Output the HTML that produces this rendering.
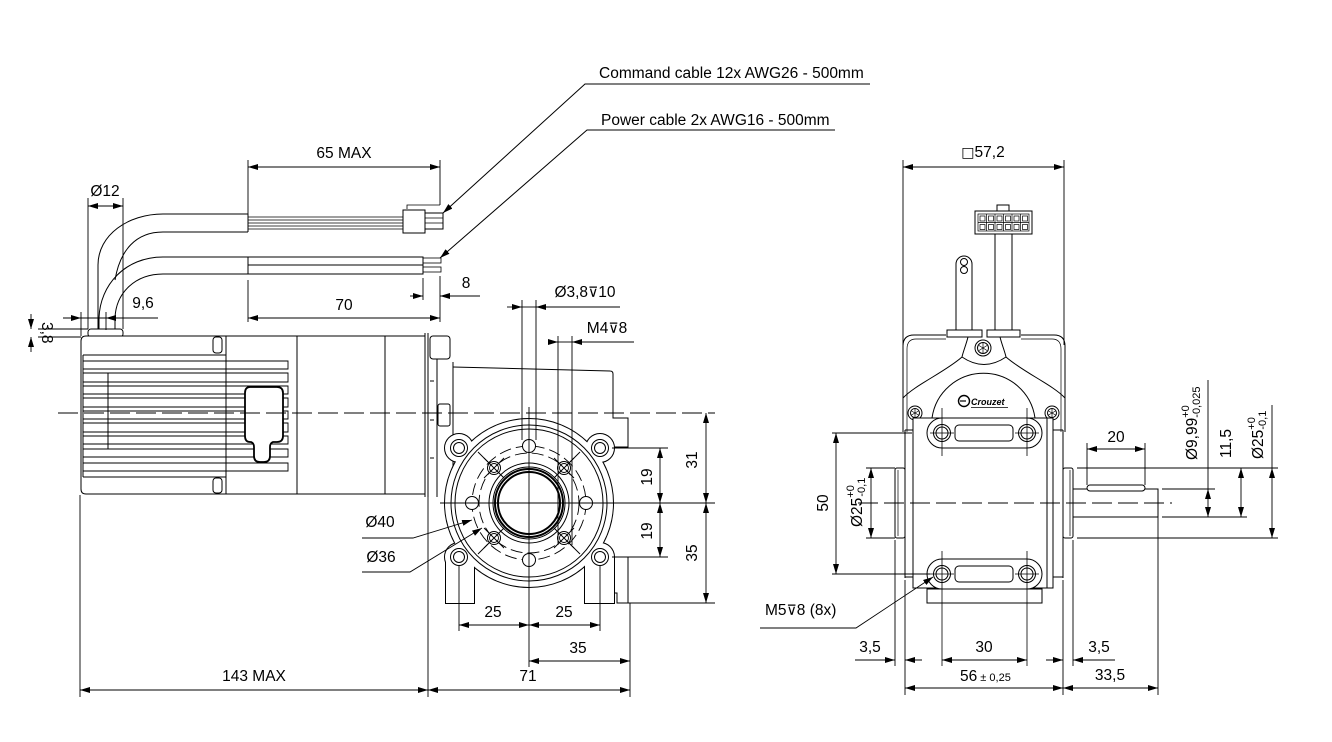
<!DOCTYPE html>
<html><head><meta charset="utf-8"><style>
html,body{margin:0;padding:0;background:#fff;}
svg{display:block;}
text{font-family:"Liberation Sans",Arial,sans-serif;font-size:15.5px;fill:#000;stroke:none;}
.sym{font-family:"DejaVu Sans",sans-serif;font-size:14px;}
.sm{font-size:11px;}
</style></head><body>
<svg width="1332" height="742" viewBox="0 0 1332 742" xmlns="http://www.w3.org/2000/svg">
<defs>
<marker id="a" viewBox="0 0 10 6" refX="10" refY="3" markerWidth="10" markerHeight="6" markerUnits="userSpaceOnUse" orient="auto-start-reverse"><path d="M0,0L10,3L0,6z" fill="#000"/></marker>
</defs>

<g fill="none" stroke="#000" stroke-width="1">

<!-- ============ LEADERS TOP ============ -->
<path d="M870,84H585L443,213" marker-end="url(#a)"/>
<path d="M835,130H587L440,258" marker-end="url(#a)"/>

<!-- ============ LEFT VIEW : CABLES ============ -->
<path d="M98,330V265C98,235 128,214 163,214H248"/>
<path d="M115,280C120,250 136,232 163,232H248"/>
<path d="M99,330V318C100,285 125,257 163,257H248"/>
<path d="M115,330V318C116,292 136,274 163,274H248"/>
<path d="M248,214V232M248,257V274"/>
<g stroke-width="0.7">
<path d="M248,217H403M248,220H403M248,223H403M248,226H403M248,229H403"/>
</g>
<rect x="403" y="210" width="22" height="23" fill="#fff"/>
<rect x="425" y="213" width="18" height="16" fill="#fff"/>
<path d="M425,218H443M425,223H443" stroke-width="0.8"/>
<path d="M407,209V205H440" stroke-width="0.8"/>
<rect x="248" y="257" width="175" height="8"/>
<rect x="248" y="265" width="175" height="9"/>
<rect x="423" y="258" width="18" height="5" stroke-width="0.8"/>
<rect x="423" y="267" width="18" height="5" stroke-width="0.8"/>

<!-- cable gland -->
<rect x="88" y="329" width="35" height="8" rx="3" fill="#fff"/>

<!-- ============ LEFT VIEW : MOTOR ============ -->
<path d="M81,341Q81,336 86,336H226V494H86Q81,494 81,489Z" fill="#fff"/>
<path d="M83,355V477"/>
<path d="M108,373V449"/>
<g stroke-width="0.9">
<path d="M83,355H226M83,361H226M83,369H226M83,373H226M83,382H226M83,386H226M83,394H226M83,398H226M83,407H226M83,411H226M83,419H226M83,423H226M83,432H226M83,436H226M83,444H226M83,449H226M83,457H226M83,463H226M83,471H226M83,477H226"/>
<path d="M226,361H288V369H226M226,373H288V382H226M226,386H288V394H226M226,398H288V407H226M226,411H288V419H226M226,423H288V432H226M226,436H288V444H226M226,449H288V457H226M226,463H288V471H226"/>
</g>
<rect x="213" y="337" width="9" height="16" rx="3"/>
<rect x="213" y="478" width="9" height="15" rx="3"/>
<path d="M226,336H425M226,494H425M297,336V494M385,336V494"/>
<path d="M425,333V497M428,333V497"/>
<path d="M250,387H277Q283,387 283,393V436Q283,442 277,442H273Q270,443 270,447V456Q270,462 264,462H260Q254,462 254,456V447Q254,443 251,442H250Q245,442 245,436V393Q245,387 250,387Z" fill="#fff" stroke-width="1.8"/>

<!-- flange -->
<rect x="430" y="336" width="20" height="23" rx="3"/>
<rect x="438" y="404" width="12" height="22" rx="2"/>
<path d="M437,359V497M453,362V500M430,381H434M430,420H434M430,458H434"/>
<!-- housing side -->
<path d="M453,367L610,371Q613,371 613,374V418H628V447H612"/>
<path d="M600,557H628V603H617V593H606"/>

<!-- centerline left view -->
<path d="M58,413H712" stroke-dasharray="20,6" stroke-width="0.9"/>

<!-- ============ FRONT FACE (union trick) ============ -->
<g stroke-width="2">
<circle cx="529" cy="503" r="84"/>
<circle cx="459" cy="448" r="14"/><circle cx="600" cy="448" r="14"/>
<circle cx="459" cy="557" r="14"/><circle cx="600" cy="557" r="14"/>
<rect x="446" y="557" width="28" height="46"/>
<rect x="585" y="557" width="29" height="46"/>
</g>
<g fill="#fff" stroke="none">
<circle cx="529" cy="503" r="84"/>
<circle cx="459" cy="448" r="14"/><circle cx="600" cy="448" r="14"/>
<circle cx="459" cy="557" r="14"/><circle cx="600" cy="557" r="14"/>
<rect x="446" y="557" width="28" height="46"/>
<rect x="585" y="557" width="29" height="46"/>
</g>
<circle cx="529" cy="503" r="78"/>
<circle cx="529" cy="503" r="74"/>
<circle cx="529" cy="503" r="57" stroke-dasharray="12,5" stroke-width="0.9"/>
<circle cx="529" cy="503" r="50" stroke-dasharray="12,5" stroke-width="0.9"/>
<circle cx="529" cy="503" r="40"/>
<circle cx="529" cy="503" r="36" stroke-width="1"/>
<circle cx="529" cy="503" r="34" stroke-width="2"/>
<circle cx="529" cy="503" r="31" stroke-width="2"/>
<!-- holes -->
<g fill="#fff">
<circle cx="459" cy="448" r="8.5"/><circle cx="459" cy="448" r="5.5"/>
<circle cx="600" cy="448" r="8.5"/><circle cx="600" cy="448" r="5.5"/>
<circle cx="459" cy="557" r="8.5"/><circle cx="459" cy="557" r="5.5"/>
<circle cx="600" cy="557" r="8.5"/><circle cx="600" cy="557" r="5.5"/>
<circle cx="529" cy="446" r="6.5"/><circle cx="472" cy="503" r="6.5"/>
<circle cx="586" cy="503" r="6.5"/><circle cx="529" cy="560" r="6.5"/>
<circle cx="494" cy="468" r="6.5"/><circle cx="564" cy="468" r="6.5"/>
<circle cx="494" cy="538" r="6.5"/><circle cx="564" cy="538" r="6.5"/>
</g>
<g stroke-width="0.9">
<circle cx="494" cy="468" r="4.5"/><circle cx="564" cy="468" r="4.5"/>
<circle cx="494" cy="538" r="4.5"/><circle cx="564" cy="538" r="4.5"/>
<path d="M484,458L504,478M504,458L484,478M554,458L574,478M574,458L554,478M484,528L504,548M504,528L484,548M554,528L574,548M574,528L554,548"/>
<path d="M478,452L488,462M580,452L570,462M478,554L488,544M580,554L570,544"/>
<path d="M529,407V667M440,503H595"/>
<path d="M463,503H481M577,503H595"/>
</g>

<!-- ============ FRONT VIEW DIMENSIONS ============ -->
<g stroke-width="0.9">
<path d="M522,300V440M536,300V440"/>
<path d="M507,307H522" marker-end="url(#a)"/>
<path d="M620,307H536" marker-end="url(#a)"/>
<path d="M522,307H536"/>
<path d="M558,336V545M572,336V545"/>
<path d="M548,342H558" marker-end="url(#a)"/>
<path d="M634,342H572" marker-end="url(#a)"/>
<path d="M558,342H572"/>

<path d="M362,538H413L472,520" marker-end="url(#a)"/>
<path d="M362,572H410L482,528" marker-end="url(#a)"/>

<path d="M612,448H668M595,503H715M612,557H668M620,603H715M712,413H715"/>
<path d="M660,448V503" marker-start="url(#a)" marker-end="url(#a)"/>
<path d="M660,503V557" marker-start="url(#a)" marker-end="url(#a)"/>
<path d="M706,413V503" marker-start="url(#a)" marker-end="url(#a)"/>
<path d="M706,503V603" marker-start="url(#a)" marker-end="url(#a)"/>

<path d="M459,565V631M600,565V631M630,603V697M80,495V697M428,497V697"/>
<path d="M459,625H529" marker-start="url(#a)" marker-end="url(#a)"/>
<path d="M529,625H600" marker-start="url(#a)" marker-end="url(#a)"/>
<path d="M529,661H630" marker-start="url(#a)" marker-end="url(#a)"/>
<path d="M80,690H428" marker-start="url(#a)" marker-end="url(#a)"/>
<path d="M428,690H630" marker-start="url(#a)" marker-end="url(#a)"/>

<!-- top-left dims -->
<path d="M248,160V214M440,160V205"/>
<path d="M248,167H440" marker-start="url(#a)" marker-end="url(#a)"/>
<path d="M88,198V329M123,198V329"/>
<path d="M88,206H123" marker-start="url(#a)" marker-end="url(#a)"/>
<path d="M248,280V322M440,276V322M423,278V300"/>
<path d="M248,318H440" marker-start="url(#a)" marker-end="url(#a)"/>
<path d="M410,296H423" marker-end="url(#a)"/>
<path d="M480,296H440" marker-end="url(#a)"/>
<path d="M81,312V336M106,312V330"/>
<path d="M63,318H81" marker-end="url(#a)"/>
<path d="M158,318H106" marker-end="url(#a)"/>
<path d="M81,318H106"/>
<path d="M38,329H88M38,337H81"/>
<path d="M31,314V329" marker-end="url(#a)"/>
<path d="M31,352V337" marker-end="url(#a)"/>
</g>

<!-- ============ RIGHT VIEW ============ -->
<!-- connector & cables -->
<rect x="997" y="205" width="12" height="6" fill="#fff"/>
<rect x="975" y="211" width="57" height="23" fill="#fff"/>
<g stroke-width="0.7">
<rect x="978" y="214" width="51" height="17"/>
<path d="M986.5,214V231M995,214V231M1003.5,214V231M1012,214V231M1020.5,214V231M978,222.5H1029"/>
<rect x="980" y="216" width="5" height="5"/><rect x="988.5" y="216" width="5" height="5"/><rect x="997" y="216" width="5" height="5"/><rect x="1005.5" y="216" width="5" height="5"/><rect x="1014" y="216" width="5" height="5"/><rect x="1022.5" y="216" width="5" height="5"/>
<rect x="980" y="224.5" width="5" height="5"/><rect x="988.5" y="224.5" width="5" height="5"/><rect x="997" y="224.5" width="5" height="5"/><rect x="1005.5" y="224.5" width="5" height="5"/><rect x="1014" y="224.5" width="5" height="5"/><rect x="1022.5" y="224.5" width="5" height="5"/>
</g>
<path d="M995,234V330M1012,234V330"/>
<path d="M956,330V264A8,8 0 0 1 972,264V330"/>
<circle cx="964" cy="262" r="3.5"/><circle cx="964" cy="270" r="3.5"/>
<rect x="947" y="330" width="35" height="7" fill="#fff"/>
<rect x="987" y="330" width="33" height="7" fill="#fff"/>

<!-- dims top right -->
<g stroke-width="0.9">
<path d="M903,160V345M1064,160V345"/>
<path d="M903,167H1064" marker-start="url(#a)" marker-end="url(#a)"/>
</g>

<!-- upper housing -->
<path d="M903,432V346Q903,335 914,335H946M1021,335H1054Q1065,335 1065,346V432"/>
<path d="M907,432V349Q907,339 916,339H946M1021,339H1052Q1061,339 1061,349V432" stroke-width="0.7"/>
<path d="M968,337C966,345 963,352 962,357C945,372 915,385 903,398"/>
<path d="M1000,337C1002,345 1005,352 1006,357C1023,372 1053,385 1065,398"/>
<path d="M962,357Q984,372 1006,357"/>
<path d="M932,418A52,52 0 0 1 1035,418"/>
<circle cx="983" cy="348" r="8" fill="#fff"/><circle cx="983" cy="348" r="5.5"/>
<path d="M983,343V353M979,345.5L987,350.5M987,345.5L979,350.5" stroke-width="0.7"/>
<circle cx="915" cy="413" r="7" fill="#fff"/><circle cx="915" cy="413" r="4.5"/>
<path d="M915,409V417M911.5,411L918.5,415M918.5,411L911.5,415" stroke-width="0.7"/>
<circle cx="1052" cy="413" r="7" fill="#fff"/><circle cx="1052" cy="413" r="4.5"/>
<path d="M1052,409V417M1048.5,411L1055.5,415M1055.5,411L1048.5,415" stroke-width="0.7"/>
<!-- Crouzet logo -->
<circle cx="964" cy="401" r="5.5" stroke-width="1.4"/>
<path d="M960,401H966" stroke-width="1.2"/>
<text x="971" y="405" style="font-size:9px;font-weight:bold;font-style:italic;">Crouzet</text>
<path d="M971,407.5H1008" stroke-width="0.8"/>

<!-- gear body -->
<path d="M905,430V578M1063,430V578M1053,430H1063M1053,577H1063M905,430H913M905,577H913"/>
<rect x="913" y="418" width="140" height="170" fill="#fff"/>
<path d="M1047,418V588"/>
<rect x="895" y="468" width="10" height="70" rx="2" fill="#fff"/>
<rect x="1063" y="468" width="10" height="70" rx="2" fill="#fff"/>
<path d="M898,470V536M1070,470V536" stroke-width="0.7"/>
<!-- top ear -->
<path d="M942,418H1027A15,15 0 0 1 1027,448H942A15,15 0 0 1 942,418Z" fill="#fff"/>
<circle cx="942" cy="433" r="8.5"/><circle cx="942" cy="433" r="6"/>
<circle cx="1027" cy="433" r="8.5"/><circle cx="1027" cy="433" r="6"/>
<rect x="955" y="425" width="58" height="16" rx="4"/>
<!-- bottom ear -->
<rect x="927" y="589" width="115" height="14" fill="#fff"/>
<path d="M942,559H1027A15,15 0 0 1 1027,589H942A15,15 0 0 1 942,559Z" fill="#fff"/>
<circle cx="942" cy="574" r="8.5"/><circle cx="942" cy="574" r="6"/>
<circle cx="1027" cy="574" r="8.5"/><circle cx="1027" cy="574" r="6"/>
<rect x="955" y="566" width="58" height="16" rx="4"/>
<g stroke-width="0.8">
<path d="M942,408V456M1027,408V456M942,551V666M1027,551V666"/>
<path d="M930,433H954M1015,433H1039M930,574H954M1015,574H1039"/>
</g>

<!-- shaft -->
<rect x="1073" y="489" width="85" height="28" fill="#fff"/>
<rect x="1087" y="485" width="58" height="6" rx="3" fill="#fff"/>
<path d="M858,503H1172" stroke-dasharray="20,6" stroke-width="0.9"/>

<!-- right view dims -->
<g stroke-width="0.9">
<path d="M832,433H912M832,574H930"/>
<path d="M836,433V574" marker-start="url(#a)" marker-end="url(#a)"/>
<path d="M866,468H895M866,538H895"/>
<path d="M871,468V538" marker-start="url(#a)" marker-end="url(#a)"/>

<path d="M1087,443V485M1145,443V485"/>
<path d="M1087,449H1145" marker-start="url(#a)" marker-end="url(#a)"/>
<path d="M1077,468H1278M1077,538H1278M1162,489H1215M1162,517H1247"/>
<path d="M1208,380V489"/>
<path d="M1208,489V517" marker-start="url(#a)" marker-end="url(#a)"/>
<path d="M1241,468V517" marker-start="url(#a)" marker-end="url(#a)"/>
<path d="M1272,405V468"/>
<path d="M1272,468V538" marker-start="url(#a)" marker-end="url(#a)"/>

<path d="M760,628H856L933,577" marker-end="url(#a)"/>

<path d="M895,540V666M905,580V695M1063,580V695M1073,540V666M1158,517V695"/>
<path d="M855,660H895" marker-end="url(#a)"/>
<path d="M922,660H905" marker-end="url(#a)"/>
<path d="M942,660H1027" marker-start="url(#a)" marker-end="url(#a)"/>
<path d="M905,688H1063" marker-start="url(#a)" marker-end="url(#a)"/>
<path d="M1046,660H1063" marker-end="url(#a)"/>
<path d="M1115,660H1073" marker-end="url(#a)"/>
<path d="M1063,688H1158" marker-start="url(#a)" marker-end="url(#a)"/>
</g>
</g>

<!-- ============ TEXT ============ -->
<text x="599" y="78">Command cable 12x AWG26 - 500mm</text>
<text x="601" y="125">Power cable 2x AWG16 - 500mm</text>
<text x="344" y="158" text-anchor="middle">65 MAX</text>
<text x="105" y="196" text-anchor="middle">Ø12</text>
<text x="344" y="310" text-anchor="middle">70</text>
<text x="466" y="288" text-anchor="middle">8</text>
<text x="143" y="308" text-anchor="middle">9,6</text>
<text transform="translate(42,322) rotate(90)">3,8</text>
<text x="585" y="297" text-anchor="middle">Ø3,8<tspan class="sym">⊽</tspan>10</text>
<text x="607" y="333" text-anchor="middle">M4<tspan class="sym">⊽</tspan>8</text>
<text x="380" y="527" text-anchor="middle">Ø40</text>
<text x="381" y="562" text-anchor="middle">Ø36</text>
<text transform="translate(697,460) rotate(-90)" text-anchor="middle">31</text>
<text transform="translate(652,477) rotate(-90)" text-anchor="middle">19</text>
<text transform="translate(652,531) rotate(-90)" text-anchor="middle">19</text>
<text transform="translate(697,553) rotate(-90)" text-anchor="middle">35</text>
<text x="493" y="617" text-anchor="middle">25</text>
<text x="564" y="617" text-anchor="middle">25</text>
<text x="578" y="653" text-anchor="middle">35</text>
<text x="254" y="681" text-anchor="middle">143 MAX</text>
<text x="528" y="681" text-anchor="middle">71</text>

<text x="983" y="157" text-anchor="middle"><tspan class="sym">□</tspan>57,2</text>
<text transform="translate(828,503) rotate(-90)" text-anchor="middle">50</text>
<text transform="translate(862,527) rotate(-90)">Ø25<tspan class="sm" dy="-8">+0</tspan><tspan class="sm" dx="-11.5" dy="11">-0,1</tspan></text>
<text x="1116" y="442" text-anchor="middle">20</text>
<text transform="translate(1197,460) rotate(-90)">Ø9,99<tspan class="sm" dy="-8">+0</tspan><tspan class="sm" dx="-12.5" dy="11">-0,025</tspan></text>
<text transform="translate(1231,458) rotate(-90)">11,5</text>
<text transform="translate(1263,459) rotate(-90)">Ø25<tspan class="sm" dy="-8">+0</tspan><tspan class="sm" dx="-12.5" dy="11">-0,1</tspan></text>
<text x="765" y="615">M5<tspan class="sym">⊽</tspan>8 (8x)</text>
<text x="870" y="652" text-anchor="middle">3,5</text>
<text x="984" y="652" text-anchor="middle">30</text>
<text x="960" y="681">56<tspan class="sm"> ± 0,25</tspan></text>
<text x="1099" y="652" text-anchor="middle">3,5</text>
<text x="1110" y="680" text-anchor="middle">33,5</text>
</svg>
</body></html>
